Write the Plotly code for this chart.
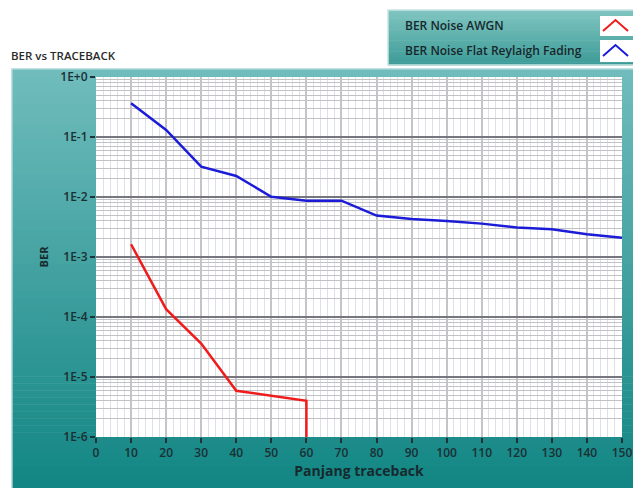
import plotly.graph_objects as go

# Traceback length (x) and measured bit error rate for each channel
traceback_awgn = [10, 20, 30, 40, 60, 60]
ber_awgn = [1.63e-3, 1.35e-4, 3.6e-5, 5.9e-6, 4.0e-6, 1e-7]

traceback_fading = [10, 20, 30, 40, 50, 60, 70, 80, 90, 100, 110, 120, 130, 140, 150]
ber_fading = [0.365, 0.131, 0.032, 0.0224, 0.0101, 0.0087, 0.0087, 0.0049,
              0.0043, 0.0040, 0.0036, 0.0031, 0.0029, 0.0024, 0.0021]

y_tick_vals = [1, 1e-1, 1e-2, 1e-3, 1e-4, 1e-5, 1e-6]
y_tick_text = ["1E+0", "1E-1", "1E-2", "1E-3", "1E-4", "1E-5", "1E-6"]

W, H = 633, 488
L, R, T, B = 96, 11, 77, 51
PW, PH = W - L - R, H - T - B
FONT = "Open Sans"


def px(x):
    return (x - L) / PW


def py(y):
    return (H - B - y) / PH


def mix(c1, c2, f):
    return "rgb(%d,%d,%d)" % tuple(round(a + (b - a) * f) for a, b in zip(c1, c2))


fig = go.Figure()
fig.add_trace(go.Scatter(x=traceback_awgn, y=ber_awgn, mode="lines",
                         line=dict(color="#f01c1c", width=2.5),
                         name="BER Noise AWGN", showlegend=False))
fig.add_trace(go.Scatter(x=traceback_fading, y=ber_fading, mode="lines",
                         line=dict(color="#1c1cd8", width=2.5),
                         name="BER Noise Flat Reylaigh Fading", showlegend=False))

shapes = []
# teal panel behind the graph, vertical gradient built from strips
top_c, bot_c = (112, 188, 188), (18, 134, 132)
y0, y1, n = 69, 488, 60
for i in range(n):
    a = y0 + (y1 - y0) * i / n
    b = y0 + (y1 - y0) * (i + 1) / n
    shapes.append(dict(type="rect", xref="paper", yref="paper", layer="below",
                       x0=px(12), x1=px(640), y0=py(b + 0.6), y1=py(a),
                       fillcolor=mix(top_c, bot_c, i / (n - 1)), line=dict(width=0)))
shapes.append(dict(type="rect", xref="paper", yref="paper", layer="below",
                   x0=px(12), x1=px(640), y0=py(490), y1=py(69),
                   fillcolor="rgba(0,0,0,0)", line=dict(color="#a9d6d6", width=1.5)))
shapes.append(dict(type="rect", xref="paper", yref="paper", layer="below",
                   x0=0, x1=1, y0=0, y1=1, fillcolor="white", line=dict(width=0)))

# legend box, gradient strips
lt, lb = 10, 65
for i in range(20):
    a = lt + (lb - lt) * i / 20
    b = lt + (lb - lt) * (i + 1) / 20
    shapes.append(dict(type="rect", xref="paper", yref="paper",
                       x0=px(388), x1=px(640), y0=py(b + 0.4), y1=py(a),
                       fillcolor=mix((126, 196, 192), (62, 156, 152), i / 19), line=dict(width=0)))
shapes.append(dict(type="rect", xref="paper", yref="paper",
                   x0=px(388), x1=px(640), y0=py(lb), y1=py(lt),
                   fillcolor="rgba(0,0,0,0)", line=dict(color="#c9e4e2", width=1.5)))
for (sy0, sy1, col) in [(16, 36, "#f01c1c"), (40, 62, "#1c1cd8")]:
    shapes.append(dict(type="rect", xref="paper", yref="paper",
                       x0=px(600), x1=px(633), y0=py(sy1), y1=py(sy0),
                       fillcolor="white", line=dict(width=0)))
    mid = (sy0 + sy1) / 2
    path = "M %f,%f L %f,%f L %f,%f" % (px(603), py(mid + 5), px(615.5), py(mid - 6),
                                         px(628), py(mid + 5))
    shapes.append(dict(type="path", xref="paper", yref="paper", path=path,
                       line=dict(color=col, width=2)))

annotations = [
    dict(text="BER vs TRACEBACK", xref="paper", yref="paper", x=px(9), y=py(55),
         xanchor="left", yanchor="middle", showarrow=False,
         font=dict(family=FONT, size=11.5, color="#2a2a2a", weight=600)),
    dict(text="BER Noise AWGN", xref="paper", yref="paper", x=px(403), y=py(25),
         xanchor="left", yanchor="middle", showarrow=False,
         font=dict(family=FONT, size=12, color="#17282c", weight=600)),
    dict(text="BER Noise Flat Reylaigh Fading", xref="paper", yref="paper", x=px(403), y=py(50),
         xanchor="left", yanchor="middle", showarrow=False,
         font=dict(family=FONT, size=12, color="#17282c", weight=600)),
]

tickfont = dict(family=FONT, size=12, color="#1a3035", weight=600)

fig.update_layout(
    width=W, height=H,
    margin=dict(l=L, r=R, t=T, b=B, pad=0, autoexpand=False),
    paper_bgcolor="white", plot_bgcolor="white",
    shapes=shapes, annotations=annotations,
    xaxis=dict(range=[0, 150], dtick=10, tick0=0, showgrid=True, automargin=False,
               gridcolor="#c4c4c8", gridwidth=1.5, zeroline=False,
               ticks="outside", ticklen=5, tickwidth=1.5, tickcolor="#1d3338",
               tickfont=tickfont,
               minor=dict(dtick=2, tick0=0, showgrid=True, gridcolor="#dfe1ea", gridwidth=1),
               showline=False,
               title=dict(text="Panjang traceback", standoff=4,
                          font=dict(family=FONT, size=14, color="#162a2e", weight=700))),
    yaxis=dict(type="log", range=[-6, 0], tickvals=y_tick_vals, ticktext=y_tick_text,
               showgrid=True, gridcolor="#76767e", gridwidth=1.5, zeroline=False,
               automargin=False,
               ticks="outside", ticklen=5, tickwidth=1.5, tickcolor="#1d3338",
               tickfont=tickfont,
               minor=dict(dtick="D1", showgrid=True, gridcolor="#c2c2c6", gridwidth=1),
               showline=False,
               title=dict(text="BER", standoff=9,
                          font=dict(family=FONT, size=11, color="#162a2e", weight=700))),
)

fig.write_html("out.html")
